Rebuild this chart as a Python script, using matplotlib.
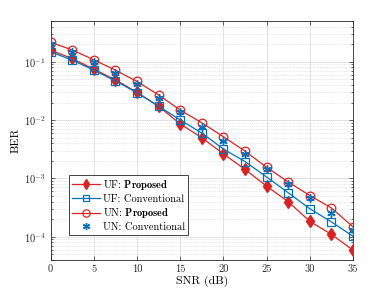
import matplotlib
matplotlib.use("Agg")
import matplotlib.pyplot as plt
import numpy as np

snr = [0, 2.5, 5, 7.5, 10, 12.5, 15, 17.5, 20, 22.5, 25, 27.5, 30, 32.5, 35]
uf_proposed = [0.158, 0.114, 0.075, 0.049, 0.030, 0.0173, 0.0086, 0.0050, 0.00264,
               0.00143, 0.00074, 0.00040, 0.000184, 0.000110, 5.9e-5]
uf_conventional = [0.148, 0.107, 0.072, 0.047, 0.0295, 0.0173, 0.0101, 0.0060, 0.0032,
                   0.00195, 0.00106, 0.00057, 0.000303, 0.000180, 0.000102]
un_proposed = [0.215, 0.160, 0.108, 0.072, 0.046, 0.027, 0.0149, 0.0090, 0.0052,
               0.00294, 0.00156, 0.00087, 0.00051, 0.000312, 0.000148]
un_conventional = [0.20, 0.145, 0.10, 0.064, 0.041, 0.0237, 0.0136, 0.0077, 0.0044,
                   0.0026, 0.00143, 0.00079, 0.00047, 0.00026, 0.000129]
labels = [r"UF: $\mathbf{Proposed}$", "UF: Conventional",
          r"UN: $\mathbf{Proposed}$", "UN: Conventional"]
xticks = [0, 5, 10, 15, 20, 25, 30, 35]

plt.rcParams["font.family"] = ["cmr10", "DejaVu Serif"]
plt.rcParams["mathtext.fontset"] = "cm"
plt.rcParams["axes.formatter.use_mathtext"] = True
plt.rcParams["axes.unicode_minus"] = False

red = "#D92323"
blue = "#0072BD"

fig = plt.figure(figsize=(3.9, 2.93), dpi=100)
ax = fig.add_axes([50.5/390, 1-260/293, (353-50.5)/390, (260-21)/293])

ax.semilogy(snr, uf_proposed, color=red, lw=0.9, marker="d", ms=6,
            mfc=red, mec=red, label=labels[0], zorder=3)
ax.semilogy(snr, uf_conventional, color=blue, lw=0.9, marker="s", ms=5.2,
            mfc="none", mec=blue, mew=0.9, label=labels[1], zorder=3)
ax.semilogy(snr, un_proposed, color=red, lw=0.9, marker="o", ms=6.2,
            mfc="none", mec=red, mew=0.9, label=labels[2], zorder=3)
ax.semilogy(snr, un_conventional, color=blue, lw=0, marker=(6, 2, 0), ms=6,
            mec=blue, mew=1.0, label=labels[3], zorder=4)

ax.set_xlim(0, 35)
ax.set_ylim(4e-5, 0.5)
ax.set_xticks(xticks)
ax.set_xticklabels([str(t) for t in xticks])
ax.set_yticks([1e-4, 1e-3, 1e-2, 1e-1])
ax.grid(True, which="major", color="#dddddd", lw=0.6, ls="-")
ax.grid(True, which="minor", color="#d2d2d2", lw=0.5, ls=":")
ax.set_axisbelow(True)
ax.tick_params(which="both", direction="in", top=True, right=True,
               labelsize=7.5, colors="#262626", width=0.5)
ax.tick_params(which="major", length=3)
ax.tick_params(which="minor", length=1.5)
for s in ax.spines.values():
    s.set_color("#262626")
    s.set_linewidth(0.6)

ax.set_xlabel("SNR (dB)", fontsize=8.5, labelpad=1)
ax.set_ylabel("BER", fontsize=8.5, labelpad=2)

leg = ax.legend(loc="upper left", bbox_to_anchor=(69/390, 1-175/293),
                bbox_transform=fig.transFigure, markerscale=0.85,
                fontsize=7.5, frameon=True, fancybox=False, borderaxespad=0,
                handlelength=2.7, handletextpad=0.25, labelspacing=0.22,
                borderpad=0.3)
leg.get_frame().set_edgecolor("#262626")
leg.get_frame().set_linewidth(0.6)
leg.get_frame().set_alpha(1)

fig.savefig("out.png", dpi=100)
